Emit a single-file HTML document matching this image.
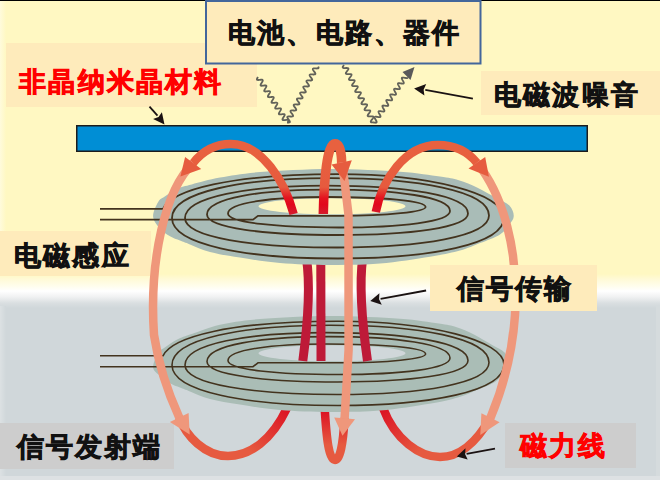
<!DOCTYPE html>
<html><head><meta charset="utf-8">
<style>
html,body{margin:0;padding:0;}
body{width:660px;height:480px;overflow:hidden;position:relative;
background:linear-gradient(to bottom,#fff8c2 0px,#fff8c2 274px,#fffad6 279px,#fffdec 286px,#ffffff 291px,#f0f1f2 297px,#dadfe1 303px,#d0d7da 308px,#d0d7da 480px);
font-family:"Liberation Sans",sans-serif;}
.t{position:absolute;font-size:26.8px;letter-spacing:2.2px;font-weight:bold;-webkit-text-stroke:0.8px currentColor;line-height:40px;white-space:nowrap;color:#111;}
.box{position:absolute;}
svg{position:absolute;left:0;top:0;}
</style></head><body>
<div style="position:absolute;left:0;top:0;width:6px;height:274px;background:linear-gradient(to right,#fffbdc,#fff8c2)"></div>
<div style="position:absolute;left:656px;top:306px;width:4px;height:174px;background:#d5dbdd"></div>
<div style="position:absolute;left:0;top:306px;width:6px;height:174px;background:linear-gradient(to right,#dce1e3,#d0d7da)"></div>
<div style="position:absolute;left:0;top:476px;width:660px;height:4px;background:#dde1e3"></div>
<div style="position:absolute;left:0;top:0;width:660px;height:1px;background:#000"></div>
<div class="box" style="left:6px;top:43px;width:251px;height:63.5px;background:#feebbb"></div>
<div class="box" style="left:481px;top:71px;width:179px;height:44px;background:#feebbb"></div>
<div class="box" style="left:0;top:231px;width:150.5px;height:44.5px;background:#feebbb"></div>
<div class="box" style="left:0;top:423px;width:174px;height:46px;background:#cdcdcd"></div>
<div class="box" style="left:505px;top:423px;width:131px;height:45px;background:#cdcdcd"></div>
<svg width="660" height="480" viewBox="0 0 660 480">
  <defs>
    <linearGradient id="gA" gradientUnits="userSpaceOnUse" x1="0" y1="214" x2="0" y2="150"><stop offset="0" stop-color="#d41c2c"/><stop offset="0.15" stop-color="#e2081c"/><stop offset="0.25" stop-color="#e3141f"/><stop offset="0.42" stop-color="#e65a3e"/><stop offset="1" stop-color="#e8613f"/></linearGradient>
    <linearGradient id="gL" gradientUnits="userSpaceOnUse" x1="0" y1="412" x2="0" y2="445"><stop offset="0" stop-color="#dc1424"/><stop offset="1" stop-color="#e65a40"/></linearGradient>
    <linearGradient id="gLL" gradientUnits="userSpaceOnUse" x1="287" y1="410" x2="250" y2="452"><stop offset="0" stop-color="#dc1424"/><stop offset="1" stop-color="#e65a40"/></linearGradient>
    <linearGradient id="gLR" gradientUnits="userSpaceOnUse" x1="383" y1="410" x2="420" y2="452"><stop offset="0" stop-color="#dc1424"/><stop offset="1" stop-color="#e65a40"/></linearGradient>
  </defs>
  <rect x="206" y="1" width="274.5" height="62.5" fill="#feebbb" stroke="#43669b" stroke-width="2"/>
  <rect x="76.75" y="125.75" width="510.5" height="25.5" fill="#008ed5" stroke="#1c1c1c" stroke-width="1.5"/>
  <path d="M258,77 L257.69,77.5 L257.4,77.98 L257.16,78.43 L256.99,78.84 L256.9,79.19 L256.9,79.49 L257.01,79.72 L257.22,79.88 L257.53,79.98 L257.93,80.02 L258.4,80.02 L258.94,79.97 L259.51,79.91 L260.09,79.83 L260.66,79.77 L261.2,79.72 L261.68,79.71 L262.09,79.75 L262.41,79.84 L262.63,80 L262.75,80.22 L262.76,80.51 L262.68,80.86 L262.51,81.27 L262.28,81.71 L261.99,82.19 L261.69,82.69 L261.37,83.18 L261.08,83.67 L260.84,84.12 L260.66,84.53 L260.56,84.89 L260.55,85.19 L260.65,85.43 L260.85,85.6 L261.15,85.71 L261.54,85.75 L262.01,85.75 L262.54,85.71 L263.11,85.65 L263.69,85.57 L264.26,85.51 L264.81,85.46 L265.3,85.44 L265.71,85.48 L266.04,85.56 L266.27,85.72 L266.4,85.93 L266.42,86.22 L266.35,86.56 L266.19,86.96 L265.96,87.4 L265.68,87.88 L265.37,88.37 L265.06,88.87 L264.76,89.35 L264.51,89.81 L264.32,90.23 L264.22,90.6 L264.2,90.9 L264.29,91.15 L264.48,91.32 L264.77,91.43 L265.15,91.49 L265.62,91.49 L266.14,91.45 L266.71,91.39 L267.29,91.32 L267.87,91.25 L268.41,91.2 L268.91,91.18 L269.33,91.21 L269.67,91.29 L269.91,91.43 L270.04,91.64 L270.08,91.92 L270.01,92.26 L269.86,92.65 L269.64,93.09 L269.36,93.57 L269.06,94.06 L268.74,94.56 L268.45,95.04 L268.19,95.5 L267.99,95.93 L267.88,96.3 L267.85,96.61 L267.93,96.86 L268.11,97.04 L268.39,97.16 L268.77,97.22 L269.22,97.23 L269.74,97.19 L270.31,97.13 L270.89,97.06 L271.47,96.99 L272.02,96.93 L272.52,96.91 L272.95,96.93 L273.29,97.01 L273.54,97.15 L273.69,97.35 L273.73,97.63 L273.68,97.96 L273.53,98.35 L273.32,98.78 L273.04,99.25 L272.74,99.75 L272.43,100.24 L272.13,100.73 L271.87,101.2 L271.66,101.62 L271.54,102 L271.51,102.32 L271.57,102.57 L271.74,102.76 L272.02,102.89 L272.38,102.95 L272.83,102.96 L273.35,102.93 L273.9,102.87 L274.49,102.8 L275.07,102.73 L275.62,102.67 L276.13,102.65 L276.57,102.66 L276.92,102.74 L277.18,102.87 L277.34,103.07 L277.39,103.33 L277.34,103.66 L277.21,104.04 L276.99,104.47 L276.73,104.94 L276.43,105.43 L276.11,105.93 L275.81,106.42 L275.54,106.89 L275.34,107.32 L275.2,107.7 L275.16,108.02 L275.22,108.29 L275.38,108.48 L275.64,108.61 L276,108.68 L276.44,108.7 L276.95,108.67 L277.5,108.61 L278.08,108.54 L278.67,108.47 L279.22,108.41 L279.74,108.38 L280.18,108.39 L280.54,108.46 L280.81,108.59 L280.98,108.78 L281.04,109.04 L281,109.36 L280.88,109.74 L280.67,110.16 L280.41,110.63 L280.11,111.12 L279.8,111.62 L279.49,112.11 L279.22,112.58 L279.01,113.01 L278.87,113.4 L278.82,113.73 L278.86,114 L279.01,114.2 L279.27,114.34 L279.62,114.41 L280.05,114.43 L280.55,114.41 L281.1,114.35 L281.68,114.28 L282.27,114.21 L282.83,114.15 L283.34,114.12 L283.8,114.13 L284.17,114.19 L284.45,114.31 L284.62,114.49 L284.7,114.74 L284.67,115.06 L284.55,115.43 L284.35,115.86 L284.09,116.32 L283.79,116.81 L283.48,117.3 L283.18,117.8 L282.9,118.27 L282.68,118.71 L282.53,119.1 L282.47,119.43 L282.51,119.71 L282.65,119.92 L282.89,120.06 L283.23,120.14 L283.66,120.17 L284.16,120.15 L284.7,120.09 L285.28,120.02 L285.86,119.95 L286.43,119.89 L286.95,119.85 L287.41,119.86 L287.79,119.91 L288.08,120.03 L288.27,120.21 L288.35,120.45 L288.33,120.76 L288.22,121.13 L288.03,121.55 L287.77,122.01" fill="none" stroke="#626259" stroke-width="1.8"/>
  <path d="M287,122.5 L287.58,122.53 L288.14,122.54 L288.65,122.53 L289.1,122.48 L289.45,122.38 L289.7,122.23 L289.85,122.03 L289.89,121.76 L289.83,121.44 L289.67,121.08 L289.43,120.66 L289.13,120.22 L288.79,119.76 L288.44,119.29 L288.1,118.82 L287.79,118.38 L287.54,117.96 L287.38,117.59 L287.3,117.26 L287.33,116.99 L287.46,116.78 L287.71,116.63 L288.05,116.53 L288.48,116.47 L288.99,116.45 L289.54,116.47 L290.13,116.49 L290.71,116.52 L291.28,116.53 L291.79,116.52 L292.24,116.48 L292.61,116.39 L292.87,116.24 L293.03,116.04 L293.08,115.79 L293.03,115.47 L292.88,115.11 L292.64,114.7 L292.35,114.26 L292.02,113.8 L291.66,113.33 L291.32,112.86 L291.01,112.42 L290.76,112 L290.58,111.62 L290.49,111.29 L290.51,111.01 L290.63,110.8 L290.87,110.63 L291.2,110.53 L291.62,110.47 L292.12,110.45 L292.67,110.46 L293.25,110.48 L293.84,110.51 L294.41,110.53 L294.93,110.52 L295.39,110.48 L295.76,110.39 L296.04,110.26 L296.21,110.06 L296.27,109.81 L296.23,109.5 L296.09,109.15 L295.86,108.74 L295.57,108.31 L295.24,107.85 L294.89,107.37 L294.54,106.91 L294.23,106.46 L293.97,106.03 L293.78,105.65 L293.69,105.32 L293.69,105.03 L293.8,104.81 L294.02,104.64 L294.35,104.53 L294.76,104.47 L295.25,104.44 L295.8,104.45 L296.38,104.47 L296.97,104.5 L297.54,104.52 L298.07,104.52 L298.53,104.48 L298.91,104.4 L299.2,104.27 L299.38,104.08 L299.46,103.84 L299.42,103.53 L299.29,103.18 L299.08,102.78 L298.8,102.35 L298.47,101.89 L298.12,101.42 L297.77,100.95 L297.45,100.5 L297.18,100.07 L296.99,99.68 L296.88,99.34 L296.87,99.06 L296.98,98.82 L297.19,98.65 L297.5,98.53 L297.9,98.47 L298.39,98.44 L298.93,98.44 L299.51,98.46 L300.09,98.49 L300.67,98.51 L301.2,98.51 L301.67,98.48 L302.07,98.4 L302.36,98.28 L302.56,98.1 L302.64,97.86 L302.62,97.56 L302.5,97.21 L302.29,96.82 L302.02,96.39 L301.69,95.93 L301.34,95.46 L300.99,94.99 L300.67,94.54 L300.4,94.11 L300.19,93.72 L300.08,93.37 L300.06,93.08 L300.15,92.84 L300.35,92.66 L300.65,92.54 L301.05,92.47 L301.52,92.43 L302.06,92.44 L302.63,92.46 L303.22,92.48 L303.8,92.51 L304.34,92.51 L304.82,92.48 L305.22,92.41 L305.53,92.29 L305.73,92.11 L305.83,91.88 L305.82,91.59 L305.71,91.25 L305.51,90.86 L305.24,90.43 L304.92,89.98 L304.57,89.51 L304.22,89.04 L303.89,88.58 L303.61,88.15 L303.4,87.75 L303.27,87.4 L303.24,87.1 L303.32,86.86 L303.51,86.67 L303.8,86.54 L304.19,86.47 L304.66,86.43 L305.19,86.43 L305.76,86.45 L306.35,86.47 L306.93,86.5 L307.47,86.5 L307.96,86.48 L308.37,86.41 L308.69,86.3 L308.9,86.13 L309.01,85.9 L309.01,85.62 L308.91,85.28 L308.72,84.9 L308.46,84.47 L308.14,84.02 L307.8,83.55 L307.44,83.08 L307.11,82.62 L306.83,82.19 L306.61,81.78 L306.47,81.43 L306.43,81.12 L306.5,80.87 L306.67,80.68 L306.95,80.55 L307.33,80.47 L307.79,80.43 L308.32,80.42 L308.89,80.44 L309.47,80.47 L310.05,80.49 L310.6,80.5 L311.1,80.48 L311.52,80.42 L311.85,80.31 L312.08,80.14 L312.2,79.92 L312.21,79.65 L312.12,79.31 L311.93,78.93 L311.68,78.51 L311.37,78.06 L311.02,77.6 L310.67,77.12 L310.34,76.66 L310.04,76.22 L309.82,75.82 L309.67,75.46 L309.62,75.15 L309.67,74.89 L309.84,74.7 L310.11,74.55 L310.48,74.47 L310.93,74.42 L311.45,74.41 L312.01,74.43 L312.6,74.46 L313.18,74.48 L313.74,74.49 L314.24,74.47 L314.67,74.42 L315.01,74.31 L315.25,74.16 L315.38,73.94 L315.4,73.67 L315.32,73.34 L315.15,72.97 L314.9,72.55 L314.59,72.11 L314.25,71.64 L313.9,71.17 L313.56,70.71 L313.26,70.26 L313.03,69.85 L312.87,69.49 L312.81,69.17 L312.85,68.91 L313.01,68.71 L313.26,68.56 L313.62,68.47 L314.07,68.42 L314.58,68.41 L315.14,68.42 L315.73,68.45 L316.31,68.47 L316.87,68.49 L317.38,68.47 L317.81,68.42 L318.16,68.32 L318.41,68.17 L318.56,67.96 L318.59,67.7 L318.52,67.38 L318.36,67.01 L318.12,66.59" fill="none" stroke="#626259" stroke-width="1.8"/>
  <path d="M344,65 L343.65,65.47 L343.32,65.92 L343.04,66.34 L342.83,66.74 L342.7,67.08 L342.68,67.38 L342.77,67.61 L342.96,67.8 L343.26,67.92 L343.65,68 L344.13,68.04 L344.66,68.05 L345.23,68.03 L345.82,68.01 L346.4,68 L346.94,68 L347.42,68.03 L347.82,68.11 L348.13,68.23 L348.34,68.4 L348.44,68.64 L348.43,68.93 L348.31,69.27 L348.11,69.65 L347.84,70.08 L347.51,70.53 L347.16,70.99 L346.8,71.46 L346.47,71.91 L346.18,72.34 L345.97,72.74 L345.83,73.09 L345.8,73.39 L345.87,73.63 L346.05,73.82 L346.34,73.95 L346.73,74.04 L347.19,74.08 L347.72,74.09 L348.29,74.08 L348.88,74.06 L349.46,74.04 L350,74.04 L350.49,74.07 L350.91,74.14 L351.23,74.25 L351.44,74.42 L351.55,74.65 L351.55,74.93 L351.45,75.27 L351.26,75.65 L350.99,76.07 L350.67,76.52 L350.32,76.98 L349.96,77.45 L349.63,77.9 L349.33,78.34 L349.11,78.74 L348.96,79.09 L348.92,79.4 L348.98,79.65 L349.15,79.84 L349.43,79.98 L349.8,80.07 L350.26,80.12 L350.78,80.13 L351.35,80.12 L351.94,80.1 L352.52,80.08 L353.07,80.08 L353.56,80.11 L353.99,80.17 L354.32,80.28 L354.55,80.45 L354.67,80.67 L354.68,80.94 L354.59,81.27 L354.4,81.65 L354.14,82.06 L353.83,82.51 L353.48,82.97 L353.12,83.44 L352.78,83.9 L352.48,84.33 L352.25,84.74 L352.09,85.1 L352.04,85.41 L352.09,85.67 L352.25,85.87 L352.51,86.01 L352.88,86.11 L353.33,86.16 L353.84,86.17 L354.41,86.16 L354.99,86.14 L355.58,86.12 L356.13,86.12 L356.63,86.14 L357.06,86.2 L357.41,86.31 L357.65,86.47 L357.78,86.68 L357.8,86.95 L357.72,87.27 L357.55,87.65 L357.3,88.06 L356.98,88.5 L356.64,88.96 L356.28,89.43 L355.94,89.89 L355.63,90.33 L355.39,90.74 L355.23,91.1 L355.16,91.42 L355.2,91.68 L355.34,91.89 L355.6,92.04 L355.95,92.14 L356.39,92.2 L356.9,92.21 L357.46,92.21 L358.05,92.19 L358.63,92.17 L359.19,92.16 L359.7,92.18 L360.14,92.24 L360.49,92.34 L360.75,92.49 L360.89,92.7 L360.93,92.96 L360.86,93.28 L360.69,93.65 L360.45,94.05 L360.14,94.49 L359.8,94.95 L359.44,95.42 L359.09,95.88 L358.78,96.32 L358.53,96.74 L358.36,97.11 L358.28,97.43 L358.31,97.7 L358.44,97.91 L358.69,98.07 L359.03,98.17 L359.46,98.23 L359.97,98.25 L360.52,98.25 L361.11,98.23 L361.69,98.21 L362.25,98.2 L362.77,98.22 L363.22,98.27 L363.58,98.36 L363.84,98.51 L364,98.71 L364.05,98.97 L363.99,99.28 L363.83,99.65 L363.6,100.05 L363.3,100.49 L362.96,100.95 L362.6,101.41 L362.25,101.87 L361.94,102.32 L361.68,102.74 L361.5,103.11 L361.41,103.44 L361.42,103.72 L361.54,103.93 L361.78,104.1 L362.11,104.21 L362.53,104.27 L363.03,104.3 L363.58,104.29 L364.16,104.28 L364.75,104.25 L365.32,104.24 L365.84,104.26 L366.3,104.3 L366.67,104.39 L366.94,104.53 L367.11,104.73 L367.17,104.98 L367.12,105.29 L366.98,105.65 L366.75,106.05 L366.45,106.48 L366.12,106.94 L365.76,107.4 L365.41,107.87 L365.09,108.31 L364.82,108.73 L364.63,109.11 L364.53,109.45 L364.54,109.73 L364.65,109.95 L364.87,110.12 L365.19,110.24 L365.6,110.31 L366.09,110.34 L366.64,110.34 L367.22,110.32 L367.81,110.3 L368.38,110.29 L368.91,110.3 L369.37,110.34 L369.75,110.42 L370.04,110.56 L370.22,110.75 L370.29,110.99 L370.25,111.29 L370.12,111.65 L369.9,112.04 L369.61,112.47 L369.27,112.93 L368.92,113.39 L368.57,113.86 L368.24,114.31 L367.97,114.73 L367.77,115.12 L367.66,115.46 L367.65,115.74 L367.75,115.97 L367.96,116.15 L368.27,116.27 L368.67,116.34 L369.16,116.38 L369.7,116.38 L370.28,116.36 L370.86,116.34 L371.44,116.33 L371.97,116.33 L372.44,116.37 L372.84,116.45 L373.13,116.58 L373.32,116.77 L373.41,117.01 L373.38,117.3 L373.26,117.65 L373.04,118.04 L372.76,118.47 L372.43,118.92 L372.08,119.39 L371.72,119.85 L371.4,120.3 L371.12,120.73 L370.91,121.12 L370.79,121.46 L370.77,121.76 L370.85,121.99 L371.05,122.17 L371.35,122.3 L371.75,122.38 L372.22,122.42 L372.76,122.42 L373.33,122.41 L373.92,122.39" fill="none" stroke="#626259" stroke-width="1.8"/>
  <path d="M373.7,122.5 L374.28,122.6 L374.83,122.67 L375.34,122.72 L375.78,122.73 L376.14,122.67 L376.42,122.56 L376.59,122.37 L376.66,122.11 L376.63,121.79 L376.52,121.41 L376.33,120.97 L376.09,120.5 L375.81,120 L375.51,119.49 L375.23,118.99 L374.98,118.51 L374.78,118.07 L374.66,117.67 L374.62,117.34 L374.68,117.08 L374.83,116.88 L375.09,116.75 L375.44,116.69 L375.87,116.69 L376.37,116.73 L376.92,116.81 L377.5,116.9 L378.07,117 L378.63,117.08 L379.15,117.13 L379.6,117.14 L379.98,117.1 L380.26,116.99 L380.45,116.82 L380.53,116.57 L380.52,116.26 L380.42,115.88 L380.24,115.45 L380,114.98 L379.73,114.49 L379.44,113.98 L379.15,113.47 L378.89,112.99 L378.69,112.54 L378.55,112.14 L378.5,111.8 L378.54,111.53 L378.68,111.32 L378.93,111.18 L379.26,111.11 L379.69,111.1 L380.18,111.14 L380.72,111.21 L381.29,111.3 L381.87,111.4 L382.43,111.48 L382.96,111.54 L383.42,111.56 L383.81,111.52 L384.11,111.43 L384.31,111.26 L384.41,111.03 L384.41,110.72 L384.32,110.35 L384.15,109.93 L383.92,109.47 L383.65,108.97 L383.36,108.47 L383.07,107.96 L382.81,107.47 L382.59,107.02 L382.44,106.61 L382.38,106.26 L382.41,105.98 L382.54,105.76 L382.77,105.61 L383.09,105.54 L383.5,105.52 L383.98,105.55 L384.52,105.61 L385.09,105.7 L385.67,105.8 L386.23,105.89 L386.76,105.95 L387.24,105.98 L387.64,105.95 L387.95,105.86 L388.16,105.7 L388.28,105.48 L388.29,105.18 L388.22,104.83 L388.06,104.41 L387.84,103.95 L387.57,103.46 L387.28,102.95 L386.99,102.45 L386.72,101.96 L386.5,101.5 L386.34,101.08 L386.26,100.72 L386.28,100.43 L386.39,100.2 L386.61,100.05 L386.92,99.96 L387.32,99.93 L387.79,99.95 L388.32,100.02 L388.89,100.1 L389.46,100.2 L390.03,100.29 L390.57,100.36 L391.05,100.39 L391.46,100.37 L391.79,100.29 L392.02,100.15 L392.15,99.93 L392.18,99.65 L392.11,99.3 L391.96,98.89 L391.75,98.44 L391.49,97.95 L391.2,97.44 L390.91,96.93 L390.64,96.44 L390.41,95.98 L390.24,95.55 L390.15,95.19 L390.15,94.88 L390.25,94.65 L390.45,94.48 L390.75,94.38 L391.13,94.35 L391.6,94.36 L392.12,94.42 L392.68,94.51 L393.26,94.6 L393.83,94.7 L394.38,94.77 L394.87,94.8 L395.29,94.79 L395.63,94.72 L395.87,94.59 L396.01,94.38 L396.06,94.11 L396.01,93.77 L395.87,93.37 L395.66,92.92 L395.41,92.43 L395.12,91.93 L394.83,91.42 L394.55,90.93 L394.31,90.46 L394.14,90.03 L394.03,89.65 L394.02,89.34 L394.11,89.09 L394.29,88.91 L394.58,88.81 L394.95,88.76 L395.41,88.77 L395.92,88.83 L396.48,88.91 L397.06,89 L397.63,89.1 L398.18,89.17 L398.68,89.22 L399.11,89.21 L399.46,89.15 L399.72,89.03 L399.88,88.83 L399.94,88.56 L399.9,88.23 L399.77,87.84 L399.58,87.4 L399.33,86.92 L399.04,86.42 L398.75,85.91 L398.47,85.41 L398.23,84.94 L398.04,84.5 L397.92,84.12 L397.9,83.79 L397.97,83.54 L398.14,83.35 L398.41,83.23 L398.77,83.18 L399.22,83.18 L399.72,83.23 L400.28,83.31 L400.85,83.41 L401.43,83.5 L401.98,83.58 L402.49,83.63 L402.93,83.63 L403.3,83.58 L403.57,83.46 L403.74,83.28 L403.81,83.02 L403.79,82.7 L403.68,82.32 L403.49,81.88 L403.24,81.41 L402.96,80.91 L402.67,80.4 L402.39,79.9 L402.14,79.42 L401.94,78.97 L401.81,78.58 L401.77,78.25 L401.83,77.98 L401.99,77.79 L402.24,77.66 L402.59,77.6 L403.03,77.6 L403.53,77.64 L404.07,77.71 L404.65,77.81 L405.23,77.9 L405.78,77.99 L406.3,78.04 L406.76,78.05 L407.13,78.01 L407.42,77.9 L407.6,77.72 L407.69,77.48 L407.68,77.16" fill="none" stroke="#626259" stroke-width="1.8"/>
  <path d="M414.5,67 L402.5,72 L410.5,80 Z" fill="#5a5a5a"/>
  <!-- lower loops (under lower coil) -->
  <g fill="none" stroke-width="8.5" stroke-linecap="butt">
    <path d="M179.25,417.45 C186,436 205,456 228,456 C250,456 272,440 287,408" stroke="url(#gLL)"/>
    <path d="M490.5,417.75 C475,445 458,457 440,457 C420,457 395,440 383,408" stroke="url(#gLR)"/>
    <path d="M344.6,418 C343,445 340,460 335,460 C329,460 326.5,440 324.5,405" stroke="url(#gL)"/>
  </g>
  
  <path d="M153.1,367.5 C152.8,363.69 156.13,356.32 158.2,352.9 C160.27,349.48 162.33,349.24 165.5,347 C168.67,344.76 172.82,341.63 177.2,339.48 C181.57,337.33 184.62,336.54 191.75,334.09 C198.88,331.64 208.62,327.28 220,324.78 C231.38,322.28 241.67,320.56 260,319.1 C278.33,317.64 306.67,316.07 330,316 C353.33,315.93 381.85,317.43 400,318.7 C418.15,319.97 429.48,322.17 438.92,323.6 C448.37,325.03 450.75,325.43 456.67,327.3 C462.58,329.17 468.49,331.83 474.41,334.8 C480.32,337.77 487.12,342.13 492.15,345.1 C497.18,348.07 501.83,349.62 504.59,352.6 C507.35,355.58 508.71,359.85 508.71,363 C508.71,366.15 506.76,368.43 504.59,371.5 C502.43,374.57 500.34,378.3 495.7,381.4 C491.06,384.5 483.08,387.4 476.77,390.1 C470.47,392.8 465.73,395.32 457.85,397.6 C449.96,399.88 442.44,401.63 429.46,403.8 C416.49,405.97 396.58,409.23 380,410.6 C363.42,411.97 346.67,412.1 330,412 C313.33,411.9 295,411.23 280,410 C265,408.77 251.67,406.45 240,404.6 C228.33,402.75 218.33,401.1 210,398.9 C201.67,396.7 195,393.28 190,391.4 C185,389.52 183.33,388.96 180,387.6 C176.67,386.24 173.33,385.23 170,383.25 C166.67,381.27 162.82,378.38 160,375.75 C157.18,373.12 153.4,371.31 153.1,367.5Z" fill="#aabdb6"/>
  <ellipse cx="332" cy="353.25" rx="73.5" ry="8" fill="#d0d7da"/>
  <path d="M100,366.7 H253 L258,362.8 H340 C387.28,362.8 425.6,358.86 425.6,354 C425.6,347.4 381.37,344 326.8,344 C272.23,344 228,349.61 228,360.5 C228,369.74 277.69,374.5 339,374.5 C400.31,374.5 450,368.89 450,358 C450,343.88 395.6,336.6 328.5,336.6 C261.4,336.6 207,345.07 207,361.5 C207,375.03 265.42,382 337.5,382 C409.58,382 468,374.69 468,360.5 C468,342.09 404.65,332.6 326.5,332.6 C248.35,332.6 185,343.62 185,365 C185,384.47 253.05,394.5 337,394.5 C420.95,394.5 489,383.65 489,362.6 C489,337.92 418.04,325.2 330.5,325.2 C242.96,325.2 172,338.73 172,365 C172,391.73 246.32,405.5 338,405.5 C429.68,405.5 504,391.56 504,364.5 C504,340.59 429.68,321.2 338,321.2 C230,321.2 172,337 163,355.8 H100" fill="none" stroke="#43331e" stroke-width="1.6"/>
  <g fill="none" stroke="#be1a38" stroke-width="9">
    <path d="M306.4,258 Q311.8,293.5 302.8,361"/>
    <path d="M320.8,258 L321,361"/>
    <path d="M362.7,258 Q357.9,293.5 367.5,361"/>
  </g>
  
  <path d="M153.1,216.5 C152.8,212.03 156.13,205.32 158.2,201.9 C160.27,198.48 162.33,198.23 165.5,196 C168.67,193.77 172.82,190.43 177.2,188.5 C181.57,186.57 184.62,186.22 191.75,184.4 C198.88,182.58 208.62,179.65 220,177.6 C231.38,175.55 241.67,173.53 260,172.1 C278.33,170.67 306.67,169.07 330,169 C353.33,168.93 381.67,170.43 400,171.7 C418.33,172.97 430.21,175.17 440,176.6 C449.79,178.03 452.5,178.43 458.75,180.3 C465,182.17 471.25,184.83 477.5,187.8 C483.75,190.77 490.93,195.13 496.25,198.1 C501.57,201.07 506.48,202.62 509.4,205.6 C512.32,208.58 513.75,212.85 513.75,216 C513.75,219.15 511.69,221.43 509.4,224.5 C507.11,227.57 504.9,231.3 500,234.4 C495.1,237.5 486.67,240.4 480,243.1 C473.33,245.8 468.33,248.32 460,250.6 C451.67,252.88 443.33,254.63 430,256.8 C416.67,258.97 396.67,262.23 380,263.6 C363.33,264.97 346.67,265.1 330,265 C313.33,264.9 295,264.23 280,263 C265,261.77 251.67,259.45 240,257.6 C228.33,255.75 218.33,254.1 210,251.9 C201.67,249.7 195,246.28 190,244.4 C185,242.52 183.33,241.96 180,240.6 C176.67,239.24 173.33,238.22 170,236.25 C166.67,234.28 162.82,232.04 160,228.75 C157.18,225.46 153.4,220.97 153.1,216.5Z" fill="#a9bcb7"/>
  <ellipse cx="332" cy="206.25" rx="73.5" ry="8" fill="#fff8c2"/>
  <path d="M100,219.7 H253 L258,215.8 H340 C387.28,215.8 425.6,211.86 425.6,207 C425.6,200.4 381.37,197 326.8,197 C272.23,197 228,202.61 228,213.5 C228,222.74 277.69,227.5 339,227.5 C400.31,227.5 450,221.89 450,211 C450,196.88 395.6,189.6 328.5,189.6 C261.4,189.6 207,198.07 207,214.5 C207,228.03 265.42,235 337.5,235 C409.58,235 468,227.69 468,213.5 C468,195.09 404.65,185.6 326.5,185.6 C248.35,185.6 185,196.62 185,218 C185,237.47 253.05,247.5 337,247.5 C420.95,247.5 489,236.65 489,215.6 C489,190.92 418.04,178.2 330.5,178.2 C242.96,178.2 172,191.73 172,218 C172,244.73 246.32,258.5 338,258.5 C429.68,258.5 504,244.56 504,217.5 C504,193.59 429.68,174.2 338,174.2 C230,174.2 172,190 163,208.8 H100" fill="none" stroke="#43331e" stroke-width="1.8"/>
  <g fill="none" stroke-width="8.5">
    <path d="M293.6,214 C285,182 262,144 231,144 C212,144 201,153 193.2,163 L189,168" stroke="url(#gA)"/>
    <path d="M375.8,212 C382,180 405,145 438,145 C455,145 468,152 476.85,162.7 L480.5,168" stroke="url(#gA)"/>
    <path d="M323.3,214 C324,180 327,143.8 335,143.8 C339.5,143.8 341.5,152 341.65,162.4 L342.3,168" stroke="url(#gA)" stroke-width="9.5"/>
  </g>
  <g fill="none" stroke="#ef977b" stroke-width="8.5">
    <path d="M193.2,163 C165,190 149,260 154,335 C159,368 169,395 179.25,417.45 L182,423"/>
    <path d="M476.85,162.7 C503,195 519,250 515,315 C512,360 500,395 490.5,417.75 L487,423"/>
    <path d="M341.65,162.4 L344.5,181 L348.5,215 L348.6,350 L344.6,418.35 L344.2,423"/>
  </g>
  <path d="M180.4,176.5 L185.1,157 L193.18,163 L201.25,169 Z" fill="#e65c3f"/>
  <path d="M189.7,434.4 L169.9,421.9 L179.25,417.45 L188.6,413 Z" fill="#ef977b"/>
  <path d="M488.9,176.8 L468.5,168.4 L476.85,162.7 L485.2,157 Z" fill="#e65c3f"/>
  <path d="M480.3,435.1 L481.4,413.2 L490.5,417.75 L499.6,422.3 Z" fill="#ef977b"/>
  <path d="M344.5,181.1 L331.5,164.5 L341.65,162.4 L351.8,160.3 Z" fill="#e65c3f"/>
  <path d="M342.5,435.8 L334.2,417.5 L344.6,418.35 L355,419.2 Z" fill="#ef977b"/>
  <path d="M149.5,106.7 L157.5,115.65" stroke="#1a1212" stroke-width="1.8" fill="none"/><path d="M164.5,124.6 L153.1,119.1 L158.55,116.99 L161.9,112.2 Z" fill="#1a1212"/>
  <path d="M472.9,98.6 L425.3,89.85" stroke="#1a1212" stroke-width="1.8" fill="none"/><path d="M414.1,88.6 L426.2,84.1 L423.62,89.66 L424.4,95.6 Z" fill="#1a1212"/>
  <path d="M426.1,290.5 L380.6,298.95" stroke="#1a1212" stroke-width="1.8" fill="none"/><path d="M370.3,301.1 L379.4,293.2 L379.06,299.27 L381.8,304.7 Z" fill="#1a1212"/>
  <path d="M495,448.6 L466.6,453.85" stroke="#1a1212" stroke-width="1.8" fill="none"/><path d="M456.8,456.4 L465.5,448.2 L465.13,454.23 L467.7,459.5 Z" fill="#1a1212"/>
</svg>
<div class="t" style="left:228px;top:12.5px">电池、电路、器件</div>
<div class="t" style="left:19.2px;top:61.5px;color:#ff0000">非晶纳米晶材料</div>
<div class="t" style="left:494px;top:75px">电磁波噪音</div>
<div class="t" style="left:14px;top:235.5px">电磁感应</div>
<div class="box" style="left:430px;top:265px;width:167px;height:46px;background:#feebbb"></div>
<div class="t" style="left:456.6px;top:268.5px">信号传输</div>
<div class="t" style="left:16.5px;top:426.5px">信号发射端</div>
<div class="t" style="left:520px;top:426.3px;color:#ff0000">磁力线</div>
</body></html>
